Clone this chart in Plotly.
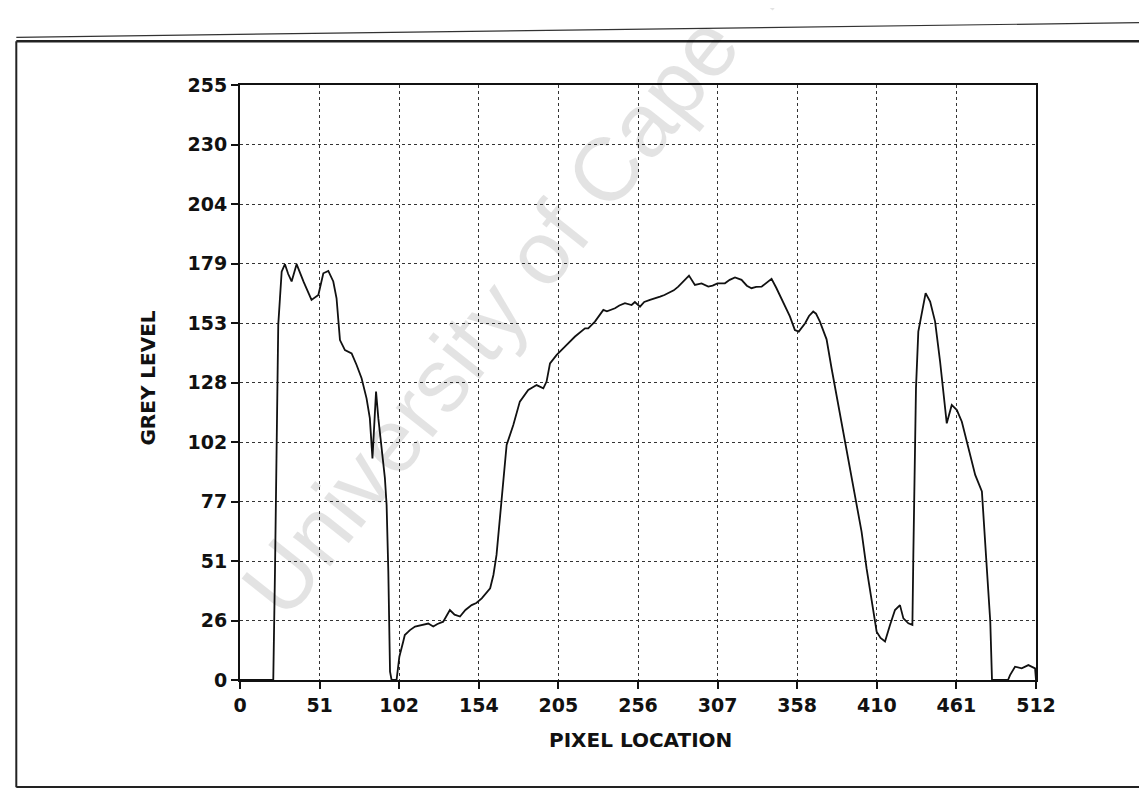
import plotly.graph_objects as go

# ---- data ----
pixel_location = [
    0, 21.4, 22.5, 23.5, 24.2, 24.6, 25.7, 26.8, 28.9, 31, 33.2, 36.4, 41, 46, 50.4,
    53.6, 56.8, 60, 62.1, 63.2, 64.3, 67.5, 71.8, 75, 78.2, 81.4, 83.5, 85.2, 87.5,
    89, 91, 93.2, 94.3, 95.4, 96.5, 97.5, 100.7, 102.5, 105, 106, 108.3, 109.3, 112.6,
    116.8, 121.1, 124.3, 127, 130.7, 135, 138, 141.5, 145, 149, 152, 155.5, 160.9,
    163, 165, 167.2, 169.4, 171.5, 175.8, 180, 185.4, 190.8, 195.1, 197.2, 199.4,
    203.7, 209, 215.5, 221.9, 224, 228.3, 230.5, 233.7, 236, 241.2, 244, 247.6,
    251.9, 254, 257.3, 260, 263.7, 267, 270.2, 273, 275.5, 279, 281.9, 285.1, 288.8,
    292.6, 296.9, 301.2, 304, 307.1, 311.9, 315, 318.4, 322.6, 326, 329, 332, 335.5,
    338.5, 341.9, 345, 348.3, 353.7, 356.9, 359.4, 363.5, 366, 368.7, 370.5, 373,
    377.3, 380.5, 383.7, 387, 390.2, 393.4, 396.6, 399.8, 403, 406.3, 409.5, 412,
    414.9, 418.1, 421.3, 424.5, 426.7, 429.9, 432.5, 433.1, 433.7, 434.8, 436.3,
    438.5, 441, 443.9, 447.1, 450.3, 452.5, 454.6, 457.8, 461.1, 464.3, 468.6,
    472.9, 477.2, 478.3, 480.5, 482.6, 483.7, 494, 495.3, 498.5, 502.8, 507.1,
    511.4, 512,
]
grey_level = [
    0, 0, 46.5, 103.6, 146.5, 152.2, 163.6, 175, 178.2, 174, 170.8, 178.2, 170.5, 162.9, 165,
    174.3, 175.3, 170.8, 163.6, 152.2, 145.7, 141.4, 140, 135, 129.3, 120.7, 112.2, 95, 123.6,
    112, 99.3, 86.5, 75, 46.5, 3.6, 0, 0, 10, 16.5, 19.3, 20.7, 21.4, 22.9,
    23.6, 24.2, 22.9, 24, 25, 30, 28, 27.2, 30, 32.1, 33, 35, 39.3,
    45, 53.6, 70.7, 86.5, 100.7, 109.3, 119.3, 124.3, 126.4, 125, 127.9, 135.7,
    139.3, 142.9, 147.2, 150.7, 150.7, 153.6, 155.8, 158.6, 158, 159.3, 160.5, 161.5,
    160.7, 162, 160, 162, 162.9, 163.5, 164.3, 165, 165.8, 167, 168.6, 170.8, 173.3,
    169.3, 170, 168.6, 169, 170, 170, 171.5, 172.5, 171.5, 169, 167.9, 168.5, 168.6,
    170, 171.9, 168, 163.6, 155.8, 150, 149.3, 152.9, 156, 157.9, 157, 153.6,
    146, 133.6, 122.2, 110.7, 99.3, 87.9, 75, 63.6, 47.9, 35, 20.7, 18,
    16.5, 23.6, 30, 32.1, 26.4, 24.3, 23.6, 53.6, 82.2, 125, 149.3,
    157.9, 165.8, 162.2, 153.6, 136.5, 122.2, 110, 117.9, 115.7, 110.7, 99.3,
    87.9, 80.8, 67.9, 46.5, 25, 0, 0, 2.1, 5.7, 5, 6.4,
    5, 0,
]

x_ticks = [0, 51.2, 102.4, 153.6, 204.8, 256, 307.2, 358.4, 409.6, 460.8, 512]
x_tick_labels = ["0", "51", "102", "154", "205", "256", "307", "358", "410", "461", "512"]
y_ticks = [0, 25.5, 51, 76.5, 102, 127.5, 153, 178.5, 204, 229.5, 255]
y_tick_labels = ["0", "26", "51", "77", "102", "128", "153", "179", "204", "230", "255"]

x_title = "PIXEL LOCATION"
y_title = "GREY LEVEL"
watermark = "University of Cape Town"

FONT = "DejaVu Sans"

fig = go.Figure()
fig.add_trace(go.Scatter(
    x=pixel_location, y=grey_level, mode="lines",
    line=dict(color="#111111", width=1.8),
    showlegend=False, hoverinfo="skip",
))

axis_common = dict(
    showline=True, linecolor="#111111", linewidth=2, mirror=True,
    showgrid=True, gridcolor="#333333", gridwidth=1.4, griddash="dot",
    zeroline=False, ticks="outside", ticklen=7, tickwidth=1.5, tickcolor="#111111",
    tickfont=dict(family=FONT, size=19, color="#111111", weight="bold"),
)

fig.update_xaxes(range=[0, 512], tickvals=x_ticks, ticktext=x_tick_labels, **axis_common)
fig.update_yaxes(range=[0, 255], tickvals=y_ticks, ticktext=y_tick_labels, **axis_common)

# plot area geometry (pixels)
L, R, T, B = 231.7, 1027.7, 76.7, 671.7
W, H = R - L, B - T

def px(xp):
    return (xp - L) / W

def py(yp):
    return (B - yp) / H

annotations = [
    dict(text=x_title, x=px(632), y=py(732), xref="paper", yref="paper",
         xanchor="center", yanchor="middle", showarrow=False,
         font=dict(family=FONT, size=20, color="#111111", weight="bold")),
    dict(text=y_title, x=px(140), y=py(370), xref="paper", yref="paper",
         xanchor="center", yanchor="middle", showarrow=False, textangle=-90,
         font=dict(family=FONT, size=20, color="#111111", weight="bold")),
    dict(text=watermark, x=px(555), y=py(216), xref="paper", yref="paper",
         xanchor="center", yanchor="middle", showarrow=False, textangle=-51.5,
         font=dict(family="Liberation Sans", size=90, color="rgba(0,0,0,0.11)")),
]

shapes = [
    # outer scanned frame
    dict(type="line", xref="paper", yref="paper", x0=px(8), x1=px(1160), y0=py(33), y1=py(33),
         line=dict(color="#222222", width=2.5)),
    dict(type="line", xref="paper", yref="paper", x0=px(8), x1=px(8), y0=py(33), y1=py(779),
         line=dict(color="#222222", width=2)),
    dict(type="line", xref="paper", yref="paper", x0=px(8), x1=px(1160), y0=py(779), y1=py(779),
         line=dict(color="#222222", width=2.5)),
    dict(type="line", xref="paper", yref="paper", x0=px(8), x1=px(1160), y0=py(29), y1=py(14),
         line=dict(color="#333333", width=1.2)),
]

fig.update_layout(
    width=1147, height=788,
    margin=dict(l=L, r=1147 - R, t=T, b=788 - B),
    paper_bgcolor="white", plot_bgcolor="white",
    annotations=annotations, shapes=shapes,
    font=dict(family=FONT, color="#111111"),
)

fig.write_html("out.html")
